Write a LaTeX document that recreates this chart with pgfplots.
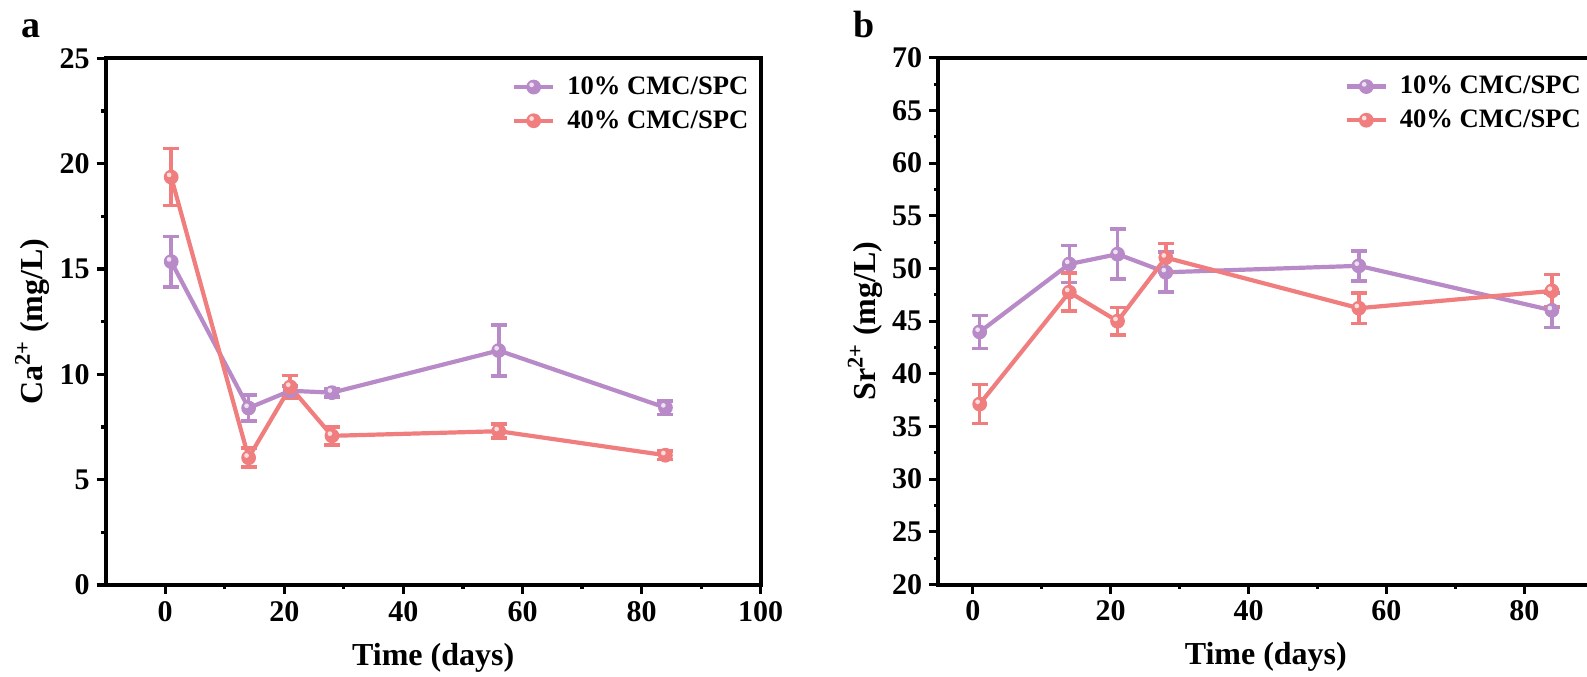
\documentclass[border=0pt]{standalone}
\usepackage{pgfplots}
\pgfplotsset{compat=1.18}
\usepackage{fontspec}
\setmainfont{Liberation Serif}
\definecolor{cpur}{RGB}{184,138,200}
\definecolor{cred}{RGB}{240,126,126}
\pgfdeclareplotmark{hball}{%
  \pgfpathcircle{\pgfpointorigin}{\pgfplotmarksize}\pgfusepathqfill
  \begin{pgfscope}%
  \pgfsetfillcolor{white}\pgfsetfillopacity{0.75}%
  \pgfpathcircle{\pgfpoint{-0.28\pgfplotmarksize}{0.3\pgfplotmarksize}}{0.32\pgfplotmarksize}\pgfusepathqfill
  \end{pgfscope}}
\pgfplotsset{
  myaxis/.style={
    scale only axis, width=327.5pt, height=263.35pt,
    axis line style={line width=2pt},
    tick style={line width=1.6pt, black},
    major tick length=4.5pt, minor tick length=2.2pt,
    tick align=outside, xtick pos=bottom, ytick pos=left,
    minor x tick num=1, minor y tick num=1,
    ticklabel style={font=\fontsize{15}{15}\selectfont\bfseries},
    /pgf/number format/assume math mode=true,
    label style={font=\fontsize{16}{18}\selectfont\bfseries},
    xlabel style={at={(axis description cs:0.5,-0.138)}, anchor=center},
    ylabel style={at={(axis description cs:-0.112,0.5)}, anchor=center, rotate=0},
    legend style={draw=none, fill=none, at={(axis description cs:1,1)}, anchor=north east,
      xshift=3pt, yshift=-5pt, font=\fontsize{13.3}{14}\selectfont\bfseries,
      row sep=2.5pt, cells={anchor=west}, nodes={inner xsep=6pt}},
    legend image code/.code={\draw[mark repeat=2,mark phase=2,##1] plot coordinates {(0pt,0pt) (9.75pt,0pt) (19.5pt,0pt)};},
  },
  myplot/.style={line width=2.1pt, mark=hball, mark size=3.7pt,
      error bars/y dir=both, error bars/y explicit,
      error bars/error bar style={line width=1.8pt},
      error bars/error mark options={rotate=90, mark size=4pt, line width=1.8pt}},
  pur/.style={myplot, cpur, mark options={fill=cpur, draw=none}},
  red/.style={myplot, cred, mark options={fill=cred, draw=none}},
}
\begin{document}
\begin{tikzpicture}
\useasboundingbox (0,0) rectangle (793.5pt,338pt);
\clip (0,0) rectangle (793.5pt,338pt);
\node[anchor=base west, font=\fontsize{19}{19}\selectfont\bfseries] at (7pt,319pt) {a};
\node[anchor=base west, font=\fontsize{19}{19}\selectfont\bfseries] at (423pt,319pt) {b};
\begin{axis}[myaxis, at={(52.85pt,45.5pt)}, anchor=south west,
  xmin=-10, xmax=100, ymin=0, ymax=25,
  xtick={0,20,...,100}, ytick={0,5,...,25},
  xlabel={Time (days)}, ylabel={Ca\textsuperscript{2+} (mg/L)}]
\addplot[pur] table[x=x,y=y,y error=e] {
x y e
1 15.35 1.2
14 8.4 0.62
21 9.22 0.22
28 9.13 0.2
56 11.13 1.22
84 8.42 0.32
};
\addlegendentry{10\% CMC/SPC}
\addplot[red] table[x=x,y=y,y error=e] {
x y e
1 19.36 1.35
14 6.04 0.45
21 9.4 0.55
28 7.08 0.43
56 7.3 0.33
84 6.16 0.2
};
\addlegendentry{40\% CMC/SPC}
\end{axis}
\begin{axis}[myaxis, at={(469.15pt,45.75pt)}, anchor=south west,
  xmin=-5, xmax=90, ymin=20, ymax=70,
  xtick={0,20,...,80}, ytick={20,25,...,70},
  xlabel={Time (days)}, ylabel={Sr\textsuperscript{2+} (mg/L)}]
\addplot[pur] table[x=x,y=y,y error=e] {
x y e
1 43.98 1.56
14 50.42 1.75
21 51.36 2.38
28 49.64 1.9
56 50.25 1.43
84 46.03 1.65
};
\addlegendentry{10\% CMC/SPC}
\addplot[red] table[x=x,y=y,y error=e] {
x y e
1 37.13 1.85
14 47.75 1.8
21 45.0 1.3
28 51.03 1.35
56 46.23 1.47
84 47.87 1.55
};
\addlegendentry{40\% CMC/SPC}
\end{axis}
\end{tikzpicture}
\end{document}
